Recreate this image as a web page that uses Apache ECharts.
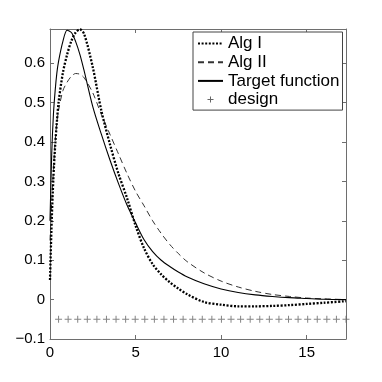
<!DOCTYPE html>
<html>
<head>
<meta charset="utf-8">
<script src="https://cdn.jsdelivr.net/npm/echarts@6/dist/echarts.min.js"></script>
<style>
  html, body { margin: 0; padding: 0; background: #fff; }
  #chart { width: 382px; height: 382px; }
</style>
</head>
<body>
<div id="chart"></div>
<script>
// sample positions along x, shared by the three curves
var xs = [0, 0.1, 0.2, 0.3, 0.4, 0.5, 0.75, 1, 1.25, 1.5, 1.75, 2, 2.5, 3, 3.5, 4, 4.5, 5, 5.5, 6, 6.5, 7, 7.5, 8, 9, 10, 11, 12, 13, 14, 15, 16, 17.3];

var algI = [0.05, 0.2, 0.31, 0.39, 0.45, 0.5, 0.575, 0.622, 0.657, 0.678, 0.686, 0.674, 0.59, 0.48, 0.395, 0.32, 0.258, 0.188, 0.13, 0.09, 0.064, 0.044, 0.028, 0.014, -0.006, -0.013, -0.017, -0.017, -0.016, -0.014, -0.011, -0.008, -0.004];
var algII = [0.15, 0.25, 0.33, 0.4, 0.45, 0.48, 0.53, 0.552, 0.567, 0.574, 0.572, 0.563, 0.525, 0.47, 0.42, 0.37, 0.32, 0.275, 0.238, 0.2, 0.168, 0.14, 0.117, 0.097, 0.068, 0.047, 0.032, 0.021, 0.013, 0.008, 0.004, 0.002, 0];
var target = [0.2, 0.37, 0.47, 0.53, 0.575, 0.605, 0.655, 0.684, 0.678, 0.655, 0.622, 0.58, 0.49, 0.42, 0.355, 0.295, 0.24, 0.195, 0.152, 0.122, 0.1, 0.084, 0.07, 0.058, 0.04, 0.027, 0.018, 0.012, 0.008, 0.005, 0.003, 0.001, 0];

// design points, all drawn at the same level
var designX = [0.50, 1.06, 1.62, 2.18, 2.74, 3.30, 3.86, 4.42, 4.98, 5.54, 6.10, 6.66, 7.22, 7.78, 8.34, 8.90, 9.46, 10.02, 10.58, 11.14, 11.70, 12.26, 12.82, 13.38, 13.94, 14.50, 15.06, 15.62, 16.18, 16.74, 17.30];
var designLevel = -0.05;

var seriesNames = ['Alg I', 'Alg II', 'Target function', 'design'];

function pairs(x, y) {
    return x.map(function (v, i) { return [v, y[i]]; });
}

var FONT = 'Liberation Sans, Arial, sans-serif';
var AXIS_COLOR = '#6e6e6e';
var plusIcon = 'path://M9.5,6.5H15.5V7.5H9.5ZM12,4H13V10H12ZM0,0M25,14';

var chart = echarts.init(document.getElementById('chart'));

var tickStyle = { show: true, inside: true, length: 4, lineStyle: { color: AXIS_COLOR } };
var lineStyleAxis = { show: true, onZero: false, lineStyle: { color: AXIS_COLOR, width: 1 } };

var option = {
    animation: false,
    backgroundColor: '#fff',
    grid: { left: 50, right: 36, top: 29, bottom: 43 },
    legend: {
        orient: 'vertical',
        left: 193,
        top: 32,
        padding: [3, 3, 2, 4],
        itemGap: 1.7,
        itemWidth: 25,
        itemHeight: 14,
        backgroundColor: '#fff',
        borderColor: '#444',
        borderWidth: 1,
        borderRadius: 0,
        itemStyle: { opacity: 0 },
        textStyle: { fontFamily: FONT, fontSize: 17, lineHeight: 17, color: '#000' },
        data: [
            { name: seriesNames[0] },
            { name: seriesNames[1] },
            { name: seriesNames[2] },
            { name: seriesNames[3], icon: plusIcon, itemStyle: { opacity: 1, color: '#666' } }
        ]
    },
    xAxis: [{
        type: 'value',
        min: 0,
        max: 17.3,
        interval: 5,
        axisLine: lineStyleAxis,
        axisTick: tickStyle,
        splitLine: { show: false },
        axisLabel: { showMaxLabel: false, fontFamily: FONT, fontSize: 15, color: '#000', margin: 6 }
    }, {
        type: 'value',
        position: 'top',
        min: 0,
        max: 17.3,
        interval: 5,
        axisLine: lineStyleAxis,
        axisTick: tickStyle,
        splitLine: { show: false },
        axisLabel: { show: false }
    }],
    yAxis: [{
        type: 'value',
        min: -0.1,
        max: 0.687,
        interval: 0.1,
        axisLine: lineStyleAxis,
        axisTick: tickStyle,
        splitLine: { show: false },
        axisLabel: {
            showMaxLabel: false,
            fontFamily: FONT, fontSize: 15, color: '#000', margin: 5,
            formatter: function (v) {
                var s = (Math.round(v * 10) / 10).toString();
                return s.replace('-', '\u2212');
            }
        }
    }, {
        type: 'value',
        position: 'right',
        min: -0.1,
        max: 0.687,
        interval: 0.1,
        axisLine: lineStyleAxis,
        axisTick: tickStyle,
        splitLine: { show: false },
        axisLabel: { show: false }
    }],
    series: [
        {
            name: seriesNames[0],
            type: 'line',
            data: pairs(xs, algI),
            smooth: 0.3,
            symbol: 'none',
            color: '#000',
            lineStyle: { color: '#000', width: 2.3, type: [2, 1.6] },
            z: 4
        },
        {
            name: seriesNames[1],
            type: 'line',
            data: pairs(xs, algII),
            smooth: 0.3,
            symbol: 'none',
            color: '#333',
            lineStyle: { color: '#333', width: 1, type: [6, 4] },
            z: 3
        },
        {
            name: seriesNames[2],
            type: 'line',
            data: pairs(xs, target),
            smooth: 0.3,
            symbol: 'none',
            color: '#000',
            lineStyle: { color: '#000', width: 1.1 },
            z: 3
        },
        {
            name: seriesNames[3],
            type: 'scatter',
            data: designX.map(function (x) { return [x, designLevel]; }),
            symbol: 'path://M0,3H7V4H0ZM3,0H4V7H3Z',
            symbolSize: 7,
            color: '#666',
            itemStyle: { color: '#666' },
            z: 2
        }
    ]
};

chart.setOption(option);
</script>
</body>
</html>
